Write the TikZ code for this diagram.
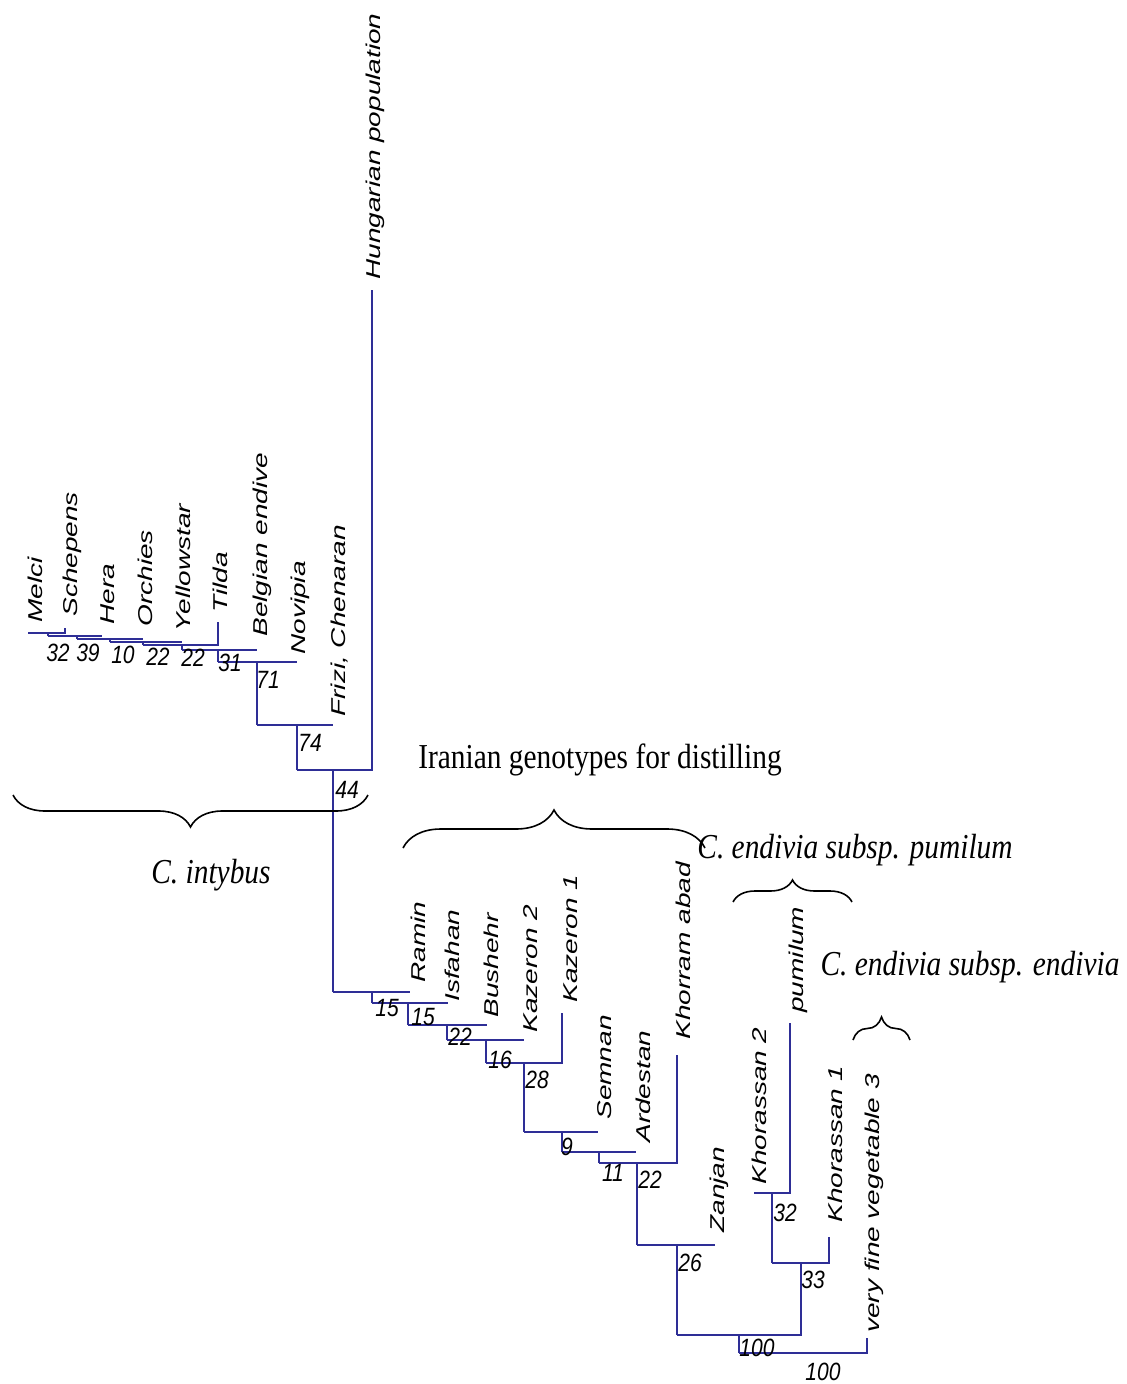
\documentclass[tikz,border=0pt]{standalone}
\usepackage{fontspec}
\setmainfont{Liberation Serif}
\newfontfamily\taxfont[FakeStretch=1.4]{Liberation Sans}
\newfontfamily\bootfont[FakeStretch=0.84]{Liberation Sans}
\newfontfamily\groupfont[FakeStretch=0.84]{Liberation Serif}
\usetikzlibrary{decorations.pathreplacing}
\definecolor{treeBlue}{HTML}{2E2E96}
\tikzset{
  branch/.style={draw=treeBlue,line width=1pt},
  leaf/.style={rotate=90,anchor=west,inner sep=0pt,
    font=\taxfont\itshape\fontsize{10}{12}\selectfont},
  boot/.style={inner sep=0pt,font=\bootfont\itshape\fontsize{12.5}{14}\selectfont},
  grouplbl/.style={inner sep=0pt,font=\groupfont\fontsize{17.5}{20}\selectfont},
  grpbrace/.style={draw=black,line width=0.8pt,decorate}
}

\begin{document}
\begin{tikzpicture}[x=0.5pt,y=-0.5pt]
\useasboundingbox (0,0) rectangle (1127,1384);

% upper group
\coordinate (u1) at (297,770);
\coordinate (u2) at (257,725);
\coordinate (u3) at (218,662);
\coordinate (u4) at (182,650);
\coordinate (u5) at (143,645);
\coordinate (u6) at (110,642);
\coordinate (u7) at (77,639);
\coordinate (u8) at (48,636);
\coordinate (u9) at (28,633);
\coordinate (tHung) at (372,290);
\coordinate (tFrizi) at (333,725);
\coordinate (tNovi) at (297,662);
\coordinate (tBelg) at (257,650);
\coordinate (tTilda) at (218,622);
\coordinate (tYell) at (182,642);
\coordinate (tOrch) at (143,639);
\coordinate (tHera) at (102,636);
\coordinate (tSchep) at (65,628);

% lower group
\coordinate (r1) at (333,992);
\coordinate (r2) at (372,1003);
\coordinate (r3) at (408,1025);
\coordinate (r4) at (447,1040);
\coordinate (r5) at (486,1063);
\coordinate (r6) at (524,1132);
\coordinate (r7) at (562,1152);
\coordinate (r8) at (599,1163);
\coordinate (r9) at (637,1245);
\coordinate (r10) at (677,1335);
\coordinate (r11) at (739,1353);
\coordinate (k0) at (801,1263);
\coordinate (k1) at (772,1263);
\coordinate (k2) at (754,1193);
\coordinate (tRamin) at (410,992);
\coordinate (tIsfa) at (448,1003);
\coordinate (tBush) at (487,1025);
\coordinate (tKaz2) at (524,1040);
\coordinate (tKaz1) at (562,1013);
\coordinate (tSemn) at (598,1132);
\coordinate (tArde) at (636,1152);
\coordinate (tKhor) at (677,1055);
\coordinate (tZanj) at (715,1245);
\coordinate (tKh1) at (829,1237);
\coordinate (tPum) at (790,1023);
\coordinate (tVfv) at (867,1338);

% branches
\draw[branch] (u1) -| (tHung);
\draw[branch] (u2) -- (tFrizi);
\draw[branch] (u3) -- (tNovi);
\draw[branch] (u4) -- (tBelg);
\draw[branch] (u5) -| (tTilda);
\draw[branch] (u6) -- (tYell);
\draw[branch] (u7) -- (tOrch);
\draw[branch] (u8) -- (tHera);
\draw[branch] (u9) -| (tSchep);
\draw[branch] (u1) -- (u1 |- u2);
\draw[branch] (u2) -- (u2 |- u3);
\draw[branch] (u3) -- (u3 |- u4);
\draw[branch] (u4) -- (u4 |- u5);
\draw[branch] (u5) -- (u5 |- u6);
\draw[branch] (u6) -- (u6 |- u7);
\draw[branch] (u7) -- (u7 |- u8);
\draw[branch] (u8) -- (u8 |- u9);
\draw[branch] (r1) -- (r1 |- u1);

\draw[branch] (r1) -- (tRamin);
\draw[branch] (r2) -- (tIsfa);
\draw[branch] (r3) -- (tBush);
\draw[branch] (r4) -- (tKaz2);
\draw[branch] (r5) -| (tKaz1);
\draw[branch] (r6) -- (tSemn);
\draw[branch] (r7) -- (tArde);
\draw[branch] (r8) -| (tKhor);
\draw[branch] (r9) -- (tZanj);
\draw[branch] (r10) -| (k0);
\draw[branch] (r11) -| (tVfv);
\draw[branch] (r2) -- (r2 |- r1);
\draw[branch] (r3) -- (r3 |- r2);
\draw[branch] (r4) -- (r4 |- r3);
\draw[branch] (r5) -- (r5 |- r4);
\draw[branch] (r6) -- (r6 |- r5);
\draw[branch] (r7) -- (r7 |- r6);
\draw[branch] (r8) -- (r8 |- r7);
\draw[branch] (r9) -- (r9 |- r8);
\draw[branch] (r10) -- (r10 |- r9);
\draw[branch] (r11) -- (r11 |- r10);
\draw[branch] (k1) -| (tKh1);
\draw[branch] (k1) -- (k1 |- k2);
\draw[branch] (k2) -| (tPum);

% taxa
\node[leaf] (lMelci) at (35,623) {Melci};
\node[leaf] (lSchep) at (72,617) {Schepens};
\node[leaf] (lHera) at (108,625) {Hera};
\node[leaf] (lOrch) at (145,627) {Orchies};
\node[leaf] (lYell) at (183,632) {Yellowstar};
\node[leaf] (lTilda) at (220,613) {Tilda};
\node[leaf] (lBelg) at (262,637) {Belgian endive};
\node[leaf] (lNovi) at (300,655) {Novipia};
\node[leaf] (lFrizi) at (340,717) {Frizi, Chenaran};
\node[leaf] (lHung) at (375,280) {Hungarian population};
\node[leaf] (lRamin) at (418,983) {Ramin};
\node[leaf] (lIsfa) at (452,1002) {Isfahan};
\node[leaf] (lBush) at (491,1018) {Bushehr};
\node[leaf] (lKaz2) at (531,1033) {Kazeron 2};
\node[leaf] (lKaz1) at (571,1003) {Kazeron 1};
\node[leaf] (lSemn) at (605,1120) {Semnan};
\node[leaf] (lArde) at (643,1143) {Ardestan};
\node[leaf] (lKhor) at (683,1040) {Khorram abad};
\node[leaf] (lZanj) at (719,1233) {Zanjan};
\node[leaf] (lKh2) at (759,1185) {Khorassan 2};
\node[leaf] (lPum) at (798,1013) {pumilum};
\node[leaf] (lKh1) at (835,1223) {Khorassan 1};
\node[leaf] (lVfv) at (874,1333) {very fine vegetable 3};

% bootstrap values
\node[boot] (b1) at (58,653) {32};
\node[boot] (b2) at (88,653) {39};
\node[boot] (b3) at (123,655) {10};
\node[boot] (b4) at (158,657) {22};
\node[boot] (b5) at (193,658) {22};
\node[boot] (b6) at (230,663) {31};
\node[boot] (b7) at (268,680) {71};
\node[boot] (b8) at (310,743) {74};
\node[boot] (b9) at (347,790) {44};
\node[boot] (b10) at (387,1008) {15};
\node[boot] (b11) at (423,1017) {15};
\node[boot] (b12) at (460,1037) {22};
\node[boot] (b13) at (500,1060) {16};
\node[boot] (b14) at (537,1080) {28};
\node[boot] (b15) at (567,1147) {9};
\node[boot] (b16) at (613,1173) {11};
\node[boot] (b17) at (650,1180) {22};
\node[boot] (b18) at (690,1263) {26};
\node[boot] (b19) at (785,1213) {32};
\node[boot] (b20) at (813,1280) {33};
\node[boot] (b21) at (757,1348) {100};
\node[boot] (b22) at (823,1372) {100};

% groups
\coordinate (intyL) at (13,795);
\coordinate (intyR) at (368,795);
\coordinate (iranL) at (403,848);
\coordinate (iranR) at (705,848);
\coordinate (pumL) at (733,902);
\coordinate (pumR) at (852,902);
\coordinate (endL) at (853,1040);
\coordinate (endR) at (910,1040);
\draw[grpbrace,decoration={brace,mirror,amplitude=16pt}] (intyL) -- (intyR);
\draw[grpbrace,decoration={brace,amplitude=19pt}] (iranL) -- (iranR);
\draw[grpbrace,decoration={brace,amplitude=11pt}] (pumL) -- (pumR);
\draw[grpbrace,decoration={brace,amplitude=11.5pt}] (endL) -- (endR);
\node[grouplbl] (gInty) at (211,875) {\itshape C. intybus};
\node[grouplbl] (gIran) at (600,760) {Iranian genotypes for distilling};
\node[grouplbl] (gPum) at (855,850) {\itshape C. endivia subsp. pumilum};
\node[grouplbl] (gEnd) at (970,967) {\itshape C. endivia subsp. endivia};
\end{tikzpicture}
\end{document}
